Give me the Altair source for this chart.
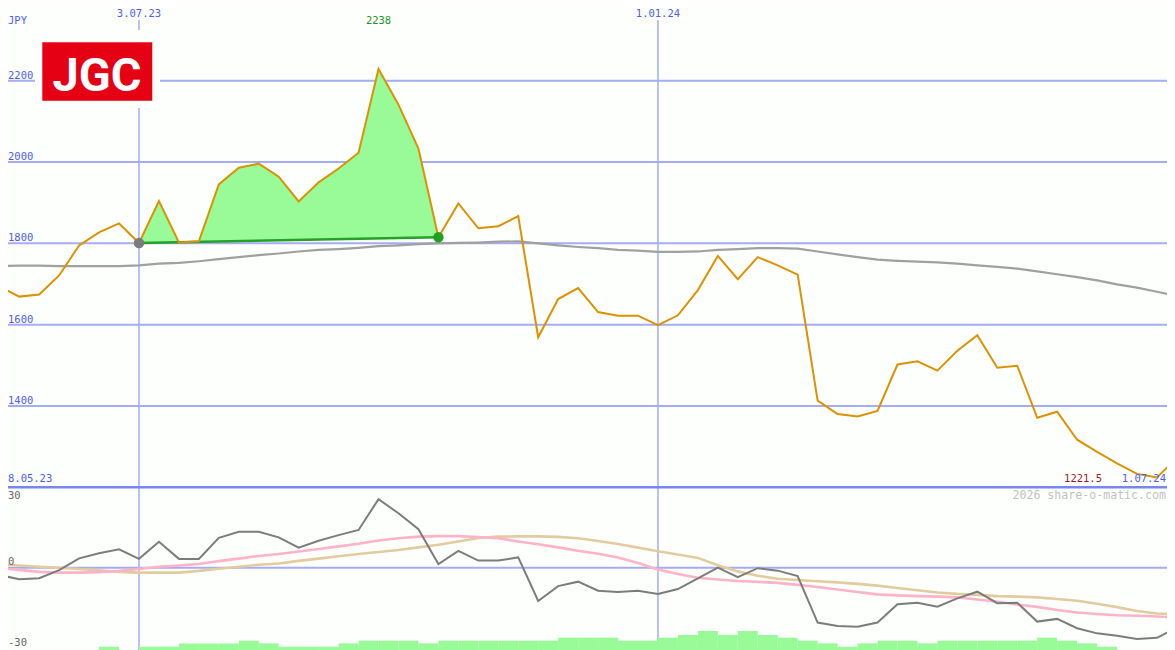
import altair as alt
import numpy as np
import pandas as pd

# ---------------- data (weekly, Mondays) ----------------
dates = list(pd.date_range("2023-05-15", "2024-07-01", freq="7D").strftime("%Y-%m-%d"))

price = [1694, 1669, 1674, 1721, 1795, 1827, 1849,
         1801, 1904, 1802, 1805, 1945, 1986, 1996, 1964, 1903, 1950,
         1984, 2023, 2229, 2141, 2033, 1815, 1898, 1837, 1842, 1867,
         1569, 1663, 1690, 1631, 1622, 1622, 1599, 1623, 1685, 1769,
         1712, 1766, 1746, 1723, 1413, 1380, 1374, 1388, 1502, 1510,
         1487, 1536, 1574, 1494, 1499, 1371, 1386, 1317, 1287, 1259,
         1233, 1224, 1272]

sma = [1744, 1745, 1745, 1744, 1744, 1744, 1744,
       1746, 1750, 1752, 1756, 1761, 1766, 1771, 1775, 1780, 1784,
       1786, 1789, 1793, 1795, 1798, 1800, 1801, 1802, 1804, 1805,
       1800, 1795, 1791, 1788, 1784, 1782, 1779, 1779, 1780, 1784,
       1786, 1788, 1788, 1787, 1780, 1773, 1766, 1760, 1757, 1755,
       1753, 1750, 1746, 1742, 1738, 1731, 1724, 1717, 1709, 1699,
       1691, 1681, 1671]

momentum = [-3.0, -4.7, -4.3, -1.0, 3.8, 5.9, 7.5,
            3.6, 10.6, 3.6, 3.6, 12.2, 14.7, 14.7, 12.4, 8.2, 11.0,
            13.3, 15.4, 28.0, 22.2, 15.7, 1.5, 6.9, 2.9, 2.9, 4.2,
            -13.6, -7.5, -5.7, -9.4, -9.9, -9.4, -10.7, -8.7, -4.4, 0.0,
            -3.9, -0.2, -1.2, -3.4, -22.4, -23.8, -24.1, -22.4, -14.9, -14.3,
            -15.9, -12.5, -9.8, -14.5, -14.3, -22.0, -20.9, -24.7, -26.8, -27.8,
            -29.1, -28.6, -24.4]

signal_fast = [-0.2, -0.9, -1.7, -2.0, -2.0, -1.8, -1.3,
               -0.5, 0.4, 0.9, 1.5, 2.7, 3.7, 4.8, 5.6, 6.6, 7.6,
               8.7, 9.8, 11.1, 12.0, 12.7, 12.9, 12.9, 12.5, 12.0, 10.7,
               9.6, 8.3, 6.9, 5.7, 4.2, 1.9, -0.7, -2.6, -4.1, -4.8,
               -5.4, -5.8, -6.2, -7.0, -7.9, -8.9, -9.9, -10.9, -11.3, -11.6,
               -11.8, -12.1, -13.0, -13.9, -15.0, -16.0, -17.3, -18.3, -18.9, -19.4,
               -19.6, -19.9, -20.4]

signal_slow = [1.4, 0.9, 0.4, 0.0, -0.5, -1.1, -1.7,
               -2.0, -2.0, -2.0, -1.3, -0.4, 0.4, 1.2, 1.7, 2.8, 3.7,
               4.7, 5.6, 6.4, 7.2, 8.3, 9.4, 10.7, 12.1, 12.7, 12.8,
               12.8, 12.6, 12.0, 10.9, 9.7, 8.2, 6.7, 5.4, 4.0, 1.0,
               -1.5, -3.3, -4.5, -5.0, -5.5, -6.0, -6.6, -7.3, -8.3, -9.2,
               -10.1, -10.7, -11.1, -11.6, -11.8, -12.1, -12.8, -13.5, -14.7, -16.1,
               -17.7, -18.7, -19.0]

volume_m = [0, 0, 0, 0, 0, 0.33, 0,
            0.33, 0.33, 0.66, 0.66, 0.66, 0.93, 0.66, 0.33, 0.33, 0.33,
            0.66, 0.93, 0.93, 0.93, 0.66, 0.93, 0.93, 0.93, 0.93, 0.93,
            0.93, 1.23, 1.23, 1.23, 0.93, 0.93, 1.23, 1.5, 1.9, 1.5,
            1.9, 1.5, 1.23, 0.93, 0.66, 0.33, 0.66, 0.93, 0.93, 0.66,
            0.93, 0.93, 0.93, 0.93, 0.93, 1.23, 0.93, 0.66, 0.33, 0,
            0, 0, 0]

price_grid = [1400, 1600, 1800, 2000, 2200]
tick_dates = ["2023-07-03", "2024-01-01"]
tick_labels = ["3.07.23", "1.01.24"]
marker_dates = ["2023-07-03", "2023-10-16"]
high_date = "2023-09-25"
high_label = "2238"
low_label = "1221.5"
range_start_label = "8.05.23"
range_end_label = "1.07.24"
currency = "JPY"
osc_ticks = [30, -30]
osc_zero = [0]
logo_text = "JGC"
credit = "2026 share-o-matic.com"

# ---------------- derived tables ----------------
REF = pd.Timestamp("2023-07-03")


def wk(d):
    return (pd.Timestamp(d) - REF).days / 7.0


df = pd.DataFrame({
    "date": dates, "price": price, "sma": sma, "mom": momentum,
    "fast": signal_fast, "slow": signal_slow, "vol": volume_m,
})
df["week"] = [wk(d) for d in dates]
df["week_end"] = df["week"] + 1

m0, m1 = wk(marker_dates[0]), wk(marker_dates[1])
p0 = float(df.loc[df["week"] == m0, "price"].iloc[0])
p1 = float(df.loc[df["week"] == m1, "price"].iloc[0])
seg = df[(df["week"] >= m0) & (df["week"] <= m1)].copy()
seg["base"] = np.interp(seg["week"], [m0, m1], [p0, p1])
markers = pd.DataFrame({"week": [m0, m1], "price": [p0, p1], "kind": ["start", "end"]})

grid_df = pd.DataFrame({"price": price_grid, "label": [str(v) for v in price_grid]})
ticks_df = pd.DataFrame({"week": [wk(d) for d in tick_dates], "label": tick_labels})
vol_df = df[df["vol"] > 0]

# ---------------- scales ----------------
W, H = 1159, 642
XS = alt.Scale(domain=[-6.563, 51.503], nice=False, zero=False)
PS = alt.Scale(domain=[1200, 2200], range=[479.3, 72.7], nice=False, zero=False)
IS = alt.Scale(domain=[-40, 40], range=[657.7, 461.7], nice=False, zero=False)
VS = alt.Scale(domain=[0, 10], range=[642, 542], nice=False, zero=False)


def X(f="week"):
    return alt.X(f"{f}:Q", scale=XS, axis=None)


def YP(f):
    return alt.Y(f"{f}:Q", scale=PS, axis=None)


def YI(f):
    return alt.Y(f"{f}:Q", scale=IS, axis=None)


BLUE_GRID = "#a4acf2"
BLUE_TEXT = "#4c5cf0"
BG = "#fdfffd"
MONO = "DejaVu Sans Mono"

base = alt.Chart(df)

hgrid = alt.Chart(grid_df).mark_rule(color=BLUE_GRID, strokeWidth=2).encode(y=YP("price"))
vgrid = alt.Chart(ticks_df).mark_rule(color=BLUE_GRID, strokeWidth=1.5).encode(
    x=X(), y=alt.value(12), y2=alt.value(H))
zero_grid = alt.Chart(pd.DataFrame({"v": osc_zero})).mark_rule(
    color=BLUE_GRID, strokeWidth=2).encode(y=YI("v"))
border = alt.Chart(pd.DataFrame({"price": [1200]})).mark_rule(
    color="#7886ee", strokeWidth=2.5).encode(y=YP("price"))

area = alt.Chart(seg).mark_area(color="#98fb98", opacity=1).encode(
    x=X(), y=YP("price"), y2="base:Q")
sma_line = base.mark_line(color="#a0a0a0", strokeWidth=2.2).encode(x=X(), y=YP("sma"))
base_line = alt.Chart(markers).mark_line(color="#26a026", strokeWidth=2.5).encode(
    x=X(), y=YP("price"))
price_line = base.mark_line(color="#dc9200", strokeWidth=2).encode(x=X(), y=YP("price"))
dots = alt.Chart(markers).mark_point(filled=True, size=110, opacity=1).encode(
    x=X(), y=YP("price"),
    color=alt.Color("kind:N", scale=alt.Scale(domain=["start", "end"],
                                              range=["#7c7c7c", "#22a022"]), legend=None))

vol_bars = alt.Chart(vol_df).mark_rect(color="#98fb98", opacity=1).encode(
    x=X(), x2="week_end:Q",
    y=alt.Y("vol:Q", scale=VS, axis=None), y2=alt.datum(0))

slow_line = base.mark_line(color="#e2cc9e", strokeWidth=2.6).encode(x=X(), y=YI("slow"))
fast_line = base.mark_line(color="#ffb2c8", strokeWidth=2.6).encode(x=X(), y=YI("fast"))
mom_line = base.mark_line(color="#7c7c7c", strokeWidth=2).encode(x=X(), y=YI("mom"))

# logo
logo_bg = alt.Chart(pd.DataFrame({"a": [0]})).mark_rect(color=BG).encode(
    x=alt.value(27), x2=alt.value(152), y=alt.value(22), y2=alt.value(100))
logo_red = alt.Chart(pd.DataFrame({"a": [0]})).mark_rect(color="#e60014").encode(
    x=alt.value(34.3), x2=alt.value(144.3), y=alt.value(34.3), y2=alt.value(92.7))
logo_txt = alt.Chart(pd.DataFrame({"t": [logo_text]})).mark_text(
    font="Roboto", fontWeight="bold", fontSize=47, color="white",
    align="center", baseline="alphabetic").encode(
    x=alt.value(89), y=alt.value(82.5), text="t:N")

# texts
tick_txt = alt.Chart(ticks_df).mark_text(
    font=MONO, fontSize=10.5, color=BLUE_TEXT, align="center", baseline="middle").encode(
    x=X(), y=alt.value(6), text="label:N")
grid_txt = alt.Chart(grid_df).mark_text(
    font=MONO, fontSize=10.5, color=BLUE_TEXT, align="left", baseline="alphabetic", dy=-2).encode(
    x=alt.value(0), y=YP("price"), text="label:N")
cur_txt = alt.Chart(pd.DataFrame({"t": [currency]})).mark_text(
    font=MONO, fontSize=10.5, color=BLUE_TEXT, align="left", baseline="middle").encode(
    x=alt.value(0), y=alt.value(13), text="t:N")
high_txt = alt.Chart(pd.DataFrame({"week": [wk(high_date)], "t": [high_label]})).mark_text(
    font=MONO, fontSize=10.5, color="#1e961e", align="center", baseline="middle").encode(
    x=X(), y=alt.value(13), text="t:N")
start_txt = alt.Chart(pd.DataFrame({"t": [range_start_label]})).mark_text(
    font=MONO, fontSize=10.5, color=BLUE_TEXT, align="left", baseline="middle").encode(
    x=alt.value(0), y=alt.value(471), text="t:N")
low_txt = alt.Chart(pd.DataFrame({"t": [low_label]})).mark_text(
    font=MONO, fontSize=10.5, color="#a01a1a", align="right", baseline="middle").encode(
    x=alt.value(1094), y=alt.value(471), text="t:N")
end_txt = alt.Chart(pd.DataFrame({"t": [range_end_label]})).mark_text(
    font=MONO, fontSize=10.5, color=BLUE_TEXT, align="right", baseline="middle").encode(
    x=alt.value(W - 1), y=alt.value(471), text="t:N")
credit_txt = alt.Chart(pd.DataFrame({"t": [credit]})).mark_text(
    font=MONO, fontSize=11.6, color="#c2c2c2", align="right", baseline="middle").encode(
    x=alt.value(W - 1), y=alt.value(488), text="t:N")
osc_txt = alt.Chart(pd.DataFrame({"v": osc_ticks, "t": [str(v) for v in osc_ticks]})).mark_text(
    font=MONO, fontSize=10.5, color="#666666", align="left", baseline="middle", dy=1.5).encode(
    x=alt.value(0), y=YI("v"), text="t:N")
osc_zero_txt = alt.Chart(pd.DataFrame({"v": osc_zero, "t": [str(v) for v in osc_zero]})).mark_text(
    font=MONO, fontSize=10.5, color="#666666", align="left", baseline="middle", dy=-5.7).encode(
    x=alt.value(0), y=YI("v"), text="t:N")

chart = alt.layer(
    hgrid, vgrid, zero_grid, border,
    area, sma_line, base_line, price_line, dots,
    vol_bars, slow_line, fast_line, mom_line,
    logo_bg, logo_red, logo_txt,
    tick_txt, grid_txt, cur_txt, high_txt, start_txt, low_txt, end_txt,
    credit_txt, osc_txt, osc_zero_txt,
).resolve_scale(y="independent").properties(
    width=W, height=H, autosize="none", padding=0, background=BG
).configure_view(stroke=None)

chart.save("out.html", embed_options={"renderer": "svg", "actions": False})
